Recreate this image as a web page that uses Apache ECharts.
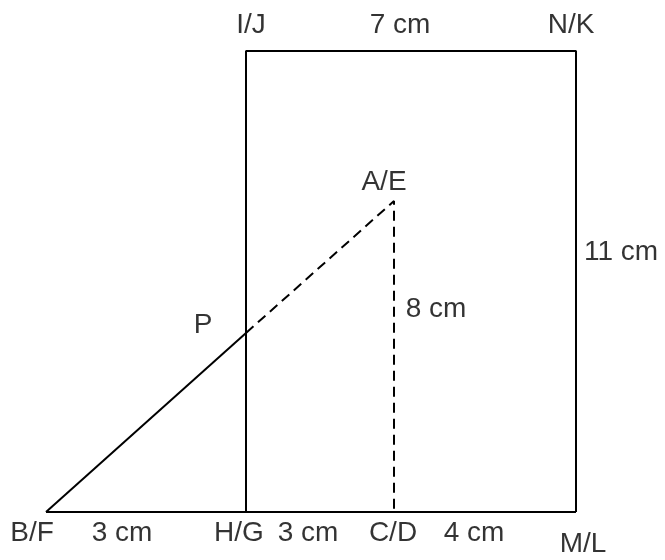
<!DOCTYPE html>
<html>
<head>
<meta charset="utf-8">
<script src="https://cdn.jsdelivr.net/npm/echarts@6/dist/echarts.min.js"></script>
<style>html,body{margin:0;padding:0;background:#fff}#c{width:665px;height:560px}</style>
</head>
<body>
<div id="c"></div>
<script>
// Vertices of the figure (diagram units)
const vertexNames = ['B', 'H', 'C', 'M', 'I', 'N', 'A', 'P'];
const vertexX = [46, 246, 394, 576, 246, 576, 394, 246];
const vertexY = [512, 512, 512, 512, 51, 51, 201, 333];

// Segments drawn through the vertices
const solidPaths = [['B', 'M'], ['H', 'I', 'N', 'M'], ['B', 'P']];
const dashedPaths = [['P', 'A', 'C']];

// Text labels
const labelTexts = ['I/J', '7 cm', 'N/K', 'A/E', '11 cm', 'P', '8 cm', 'B/F', '3 cm', 'H/G', '3 cm', 'C/D', '4 cm', 'M/L'];
const labelX = [251, 400, 571, 384, 621, 203, 436, 32, 122, 239, 308, 393, 474, 583];
const labelY = [25, 25, 25, 182, 252, 325, 309, 533, 533, 533, 533, 533, 533, 544];

function pt(n) {
  const i = vertexNames.indexOf(n);
  return [vertexX[i], vertexY[i]];
}

const series = [];
solidPaths.forEach(p => series.push({
  type: 'line', data: p.map(pt), symbol: 'none', silent: true,
  lineStyle: { color: '#000', width: 2, type: 'solid' }
}));
dashedPaths.forEach(p => series.push({
  type: 'line', data: p.map(pt), symbol: 'none', silent: true,
  lineStyle: { color: '#000', width: 2, type: [10, 6] }
}));
series.push({
  type: 'scatter', symbolSize: 1, silent: true,
  itemStyle: { color: 'rgba(0,0,0,0)' },
  data: labelTexts.map((t, i) => ({ name: t, value: [labelX[i], labelY[i]] })),
  label: {
    show: true, position: 'inside', formatter: '{b}',
    color: '#000', fontSize: 28, textBorderWidth: 0,
    fontFamily: 'Liberation Sans, Arial, sans-serif'
  }
});

const chart = echarts.init(document.getElementById('c'), null, { renderer: 'canvas' });
chart.setOption({
  animation: false,
  backgroundColor: '#fff',
  grid: { left: 0, right: 0, top: 0, bottom: 0 },
  xAxis: { type: 'value', min: 0, max: 665, show: false },
  yAxis: { type: 'value', min: 0, max: 560, inverse: true, show: false },
  series: series
});
</script>
</body>
</html>
